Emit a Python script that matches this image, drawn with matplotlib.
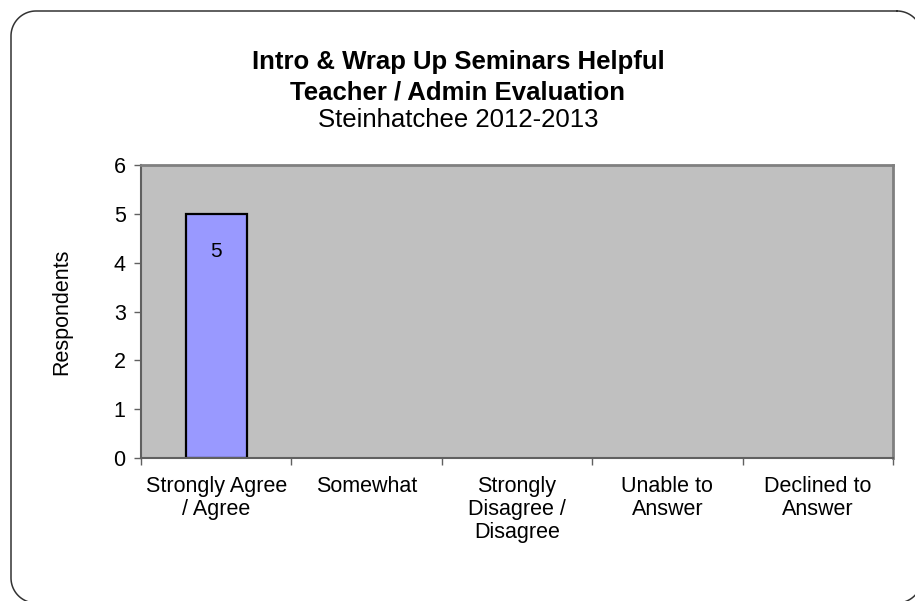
import matplotlib
matplotlib.use("Agg")
import matplotlib.pyplot as plt
from matplotlib.lines import Line2D
import numpy as np

plt.rcParams['font.family'] = ['Liberation Sans', 'DejaVu Sans']
plt.rcParams['savefig.bbox'] = 'standard'

categories = ["Strongly Agree\n/ Agree", "Somewhat", "Strongly\nDisagree /\nDisagree",
              "Unable to\nAnswer", "Declined to\nAnswer"]
values = [5, 0, 0, 0, 0]
yticks = [0, 1, 2, 3, 4, 5, 6]

W, H = 915, 601
fig = plt.figure(figsize=(W / 100, H / 100), dpi=100)
fig.patch.set_facecolor('white')


def rounded_frame(x0, y0, x1, y1, r, n=30):
    """Polyline of a rounded rectangle in pixel coords (y down)."""
    pts = []
    corners = [((x1 - r, y0 + r), -90, 0), ((x1 - r, y1 - r), 0, 90),
               ((x0 + r, y1 - r), 90, 180), ((x0 + r, y0 + r), 180, 270)]
    for (cx, cy), a0, a1 in corners:
        t = np.radians(np.linspace(a0, a1, n))
        pts.extend(zip(cx + r * np.cos(t), cy + r * np.sin(t)))
    pts.append(pts[0])
    p = np.array(pts)
    return p[:, 0] / W, 1 - p[:, 1] / H


fx, fy = rounded_frame(11, 11, 922, 603, 25)
fig.add_artist(Line2D(fx, fy, transform=fig.transFigure, color='#333333', lw=1.1))

ax = fig.add_axes([141 / W, (H - 458) / H, (893 - 141) / W, (458 - 165) / H])
ax.set_facecolor('#C0C0C0')

x = np.arange(len(categories))
bars = ax.bar(x, values, width=0.405, color='#9999FF', edgecolor='black', linewidth=1.6)
for b, v in zip(bars, values):
    if v == 0:
        b.set_linewidth(0)
for xi, v in zip(x, values):
    if v > 0:
        ax.annotate(str(v), (xi, v), xytext=(0, -38), textcoords='offset pixels',
                    ha='center', va='center', fontsize=15)

ax.set_xlim(-0.5, len(categories) - 0.5)
ax.set_ylim(0, 6)
ax.set_yticks(yticks)
ax.set_yticklabels([str(t) for t in yticks], fontsize=15.5)
ax.set_xticks(x)
ax.set_xticklabels(categories, fontsize=15.5, va='top', linespacing=1.12)
ax.set_xticks(np.arange(-0.5, len(categories)), minor=True)
ax.tick_params(axis='x', which='major', length=0, pad=13)
ax.tick_params(axis='x', which='minor', length=5, color='#606060', width=1)
ax.tick_params(axis='y', length=5, color='#606060', width=1, pad=6)

for s in ['top', 'right']:
    ax.spines[s].set_color('#808080')
    ax.spines[s].set_linewidth(2)
for s in ['left', 'bottom']:
    ax.spines[s].set_color('#606060')
    ax.spines[s].set_linewidth(1.5)

ax.set_ylabel('Respondents', fontsize=15.5, labelpad=30)

fig.text(458 / W, 1 - 62 / H, 'Intro & Wrap Up Seminars Helpful', ha='center', va='center',
         fontsize=18.5, fontweight='bold')
fig.text(458 / W, 1 - 92 / H, 'Teacher / Admin Evaluation', ha='center', va='center',
         fontsize=18.5, fontweight='bold')
fig.text(458 / W, 1 - 120 / H, 'Steinhatchee 2012-2013', ha='center', va='center',
         fontsize=18.5)

fig.savefig('out.png', dpi=100, bbox_inches=None)
